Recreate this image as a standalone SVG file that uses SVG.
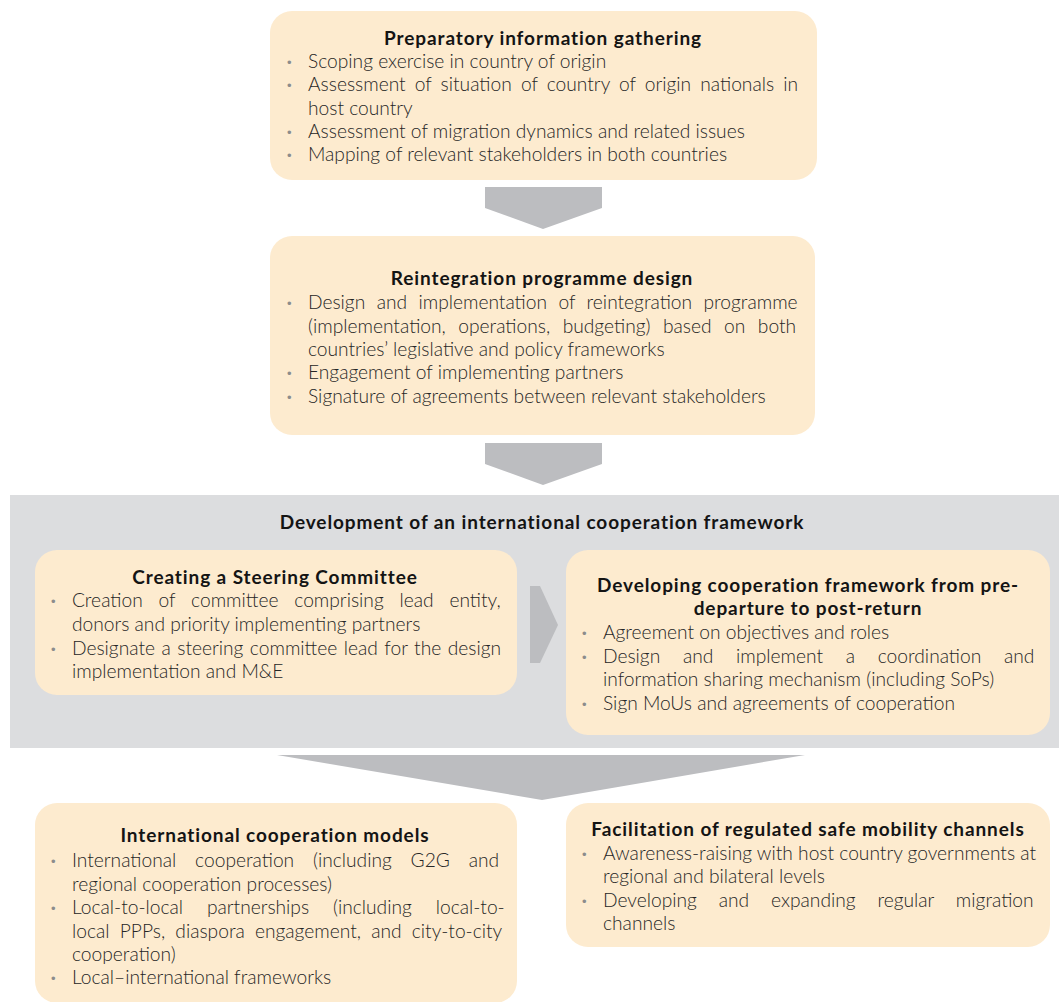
<svg xmlns="http://www.w3.org/2000/svg" width="1059" height="1002" viewBox="0 0 1059 1002">
<style>
.box{fill:#fdebcf}
.panel{fill:#dcdddf}
.arrow{fill:#bcbdc0}
.t{font-family:Lato,"Liberation Sans",sans-serif;font-weight:700;font-size:19px;letter-spacing:0.9px;fill:#141414;text-anchor:middle}
.b{font-family:Lato,"Liberation Sans",sans-serif;font-weight:300;font-size:19.2px;fill:#262626}
.d{font-family:"Liberation Sans",sans-serif;font-size:13px;fill:#8c8c8c}
</style>
<rect width="1059" height="1002" fill="#ffffff"/>
<g id="panel-framework">
<rect class="panel" x="10" y="495" width="1049" height="253"/>
<text class="t" x="542" y="529">Development of an international cooperation framework</text>
</g>
<g id="connectors">
<polygon class="arrow" points="485,187 602,187 602,208 543,229 485,208"/>
<polygon class="arrow" points="485,443 602,443 602,464 543,485 485,464"/>
<polygon class="arrow" points="530,586 540,586 558,625 540,663 530,663"/>
<polygon class="arrow" points="277,755 805,755 542,800"/>
</g>
<g id="node-preparatory">
<rect class="box" x="270" y="11" width="547" height="169" rx="22"/>
<text class="t" x="543" y="45">Preparatory information gathering</text>
<text class="d" x="287" y="67">•</text>
<text class="b" x="308" y="68">Scoping exercise in country of origin</text>
<text class="d" x="287" y="90">•</text>
<text class="b" x="308" y="91" word-spacing="3.9">Assessment of situation of country of origin nationals in</text>
<text class="b" x="308" y="115">host country</text>
<text class="d" x="287" y="137">•</text>
<text class="b" x="308" y="138">Assessment of migration dynamics and related issues</text>
<text class="d" x="287" y="160">•</text>
<text class="b" x="308" y="161">Mapping of relevant stakeholders in both countries</text>
</g>
<g id="node-reintegration">
<rect class="box" x="270" y="236" width="545" height="199" rx="22"/>
<text class="t" x="542" y="285">Reintegration programme design</text>
<text class="d" x="287" y="308">•</text>
<text class="b" x="308" y="309" word-spacing="6.2">Design and implementation of reintegration programme</text>
<text class="b" x="308" y="333" word-spacing="7.3">(implementation, operations, budgeting) based on both</text>
<text class="b" x="308" y="356">countries’ legislative and policy frameworks</text>
<text class="d" x="287" y="378">•</text>
<text class="b" x="308" y="379">Engagement of implementing partners</text>
<text class="d" x="287" y="402">•</text>
<text class="b" x="308" y="403">Signature of agreements between relevant stakeholders</text>
</g>
<g id="node-steering">
<rect class="box" x="35" y="550" width="482" height="145" rx="22"/>
<text class="t" x="275" y="584">Creating a Steering Committee</text>
<text class="d" x="51" y="606">•</text>
<text class="b" x="72" y="607" word-spacing="10.6">Creation of committee comprising lead entity,</text>
<text class="b" x="72" y="631">donors and priority implementing partners</text>
<text class="d" x="51" y="654">•</text>
<text class="b" x="72" y="655" word-spacing="1.3">Designate a steering committee lead for the design</text>
<text class="b" x="72" y="678">implementation and M&amp;E</text>
</g>
<g id="node-developing">
<rect class="box" x="566" y="550" width="484" height="185" rx="22"/>
<text class="t" x="808" y="592">Developing cooperation framework from pre-</text>
<text class="t" x="808" y="615">departure to post-return</text>
<text class="d" x="582" y="638">•</text>
<text class="b" x="603" y="639">Agreement on objectives and roles</text>
<text class="d" x="582" y="662">•</text>
<text class="b" x="603" y="663" word-spacing="17.5">Design and implement a coordination and</text>
<text class="b" x="603" y="686">information sharing mechanism (including SoPs)</text>
<text class="d" x="582" y="709">•</text>
<text class="b" x="603" y="710">Sign MoUs and agreements of cooperation</text>
</g>
<g id="node-models">
<rect class="box" x="35" y="803" width="482" height="200" rx="22"/>
<text class="t" x="275" y="842">International cooperation models</text>
<text class="d" x="51" y="866">•</text>
<text class="b" x="72" y="867" word-spacing="13.6">International cooperation (including G2G and</text>
<text class="b" x="72" y="891">regional cooperation processes)</text>
<text class="d" x="51" y="913">•</text>
<text class="b" x="72" y="914" word-spacing="18.7">Local-to-local partnerships (including local-to-</text>
<text class="b" x="72" y="938" word-spacing="5">local PPPs, diaspora engagement, and city-to-city</text>
<text class="b" x="72" y="961">cooperation)</text>
<text class="d" x="51" y="983">•</text>
<text class="b" x="72" y="984">Local–international frameworks</text>
</g>
<g id="node-mobility">
<rect class="box" x="566" y="803" width="484" height="144" rx="22"/>
<text class="t" x="808" y="836">Facilitation of regulated safe mobility channels</text>
<text class="d" x="582" y="859">•</text>
<text class="b" x="603" y="860">Awareness-raising with host country governments at</text>
<text class="b" x="603" y="883">regional and bilateral levels</text>
<text class="d" x="582" y="906">•</text>
<text class="b" x="603" y="907" word-spacing="16.7">Developing and expanding regular migration</text>
<text class="b" x="603" y="930">channels</text>
</g>
</svg>
